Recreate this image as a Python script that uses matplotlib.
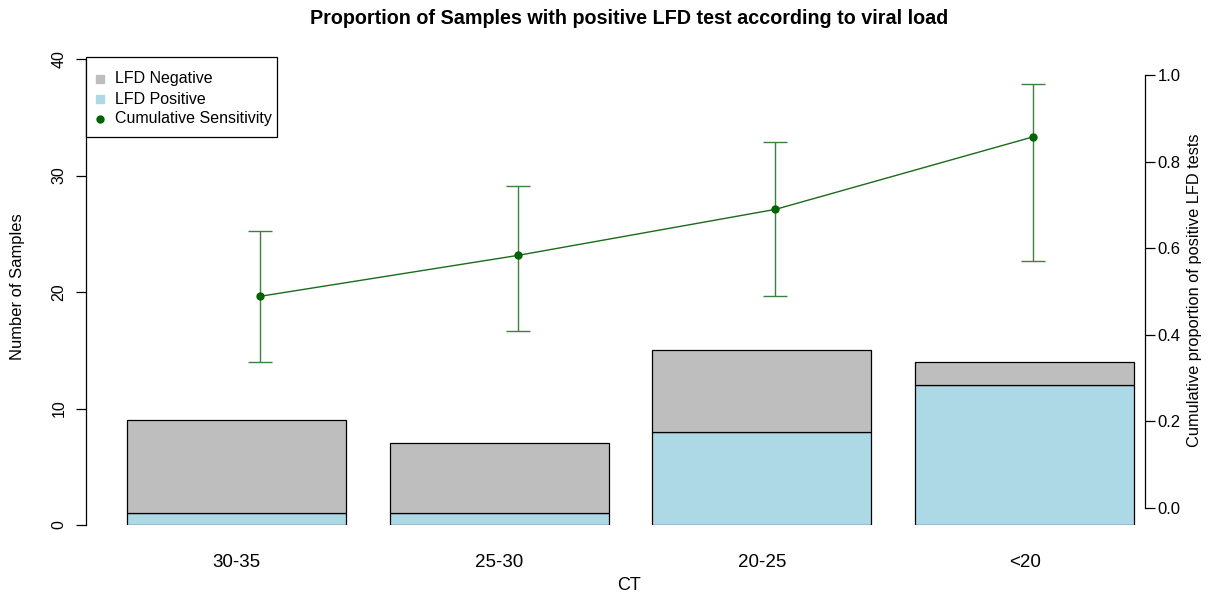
import matplotlib
matplotlib.use("Agg")
import matplotlib.pyplot as plt
from matplotlib.lines import Line2D
from matplotlib.patches import Rectangle
import numpy as np

plt.rcParams['font.family'] = ['Liberation Sans', 'DejaVu Sans']

categories = ["30-35", "25-30", "20-25", "<20"]
lfd_positive = [1, 1, 8, 12]
lfd_negative = [8, 6, 7, 2]
cum_sensitivity = [22/45, 21/36, 20/29, 12/14]
ci_lower = [0.337, 0.409, 0.490, 0.570]
ci_upper = [0.640, 0.744, 0.845, 0.979]
left_ticks = [0, 10, 20, 30, 40]
right_ticks = [0.0, 0.2, 0.4, 0.6, 0.8, 1.0]
legend_labels = ["LFD Negative", "LFD Positive", "Cumulative Sensitivity"]
legend_colors = ['#BEBEBE', '#ADD8E6', '#006400']
legend_markers = ['s', 's', 'o']

W, H = 1208, 594
fig = plt.figure(figsize=(W/100, H/100), dpi=100)

def px_rect(x0, y0, x1, y1):
    return [x0/W, (H-y1)/H, (x1-x0)/W, (y1-y0)/H]

def fx(px):
    return px/W

def fy(py):
    return 1 - py/H

pos = px_rect(86, 59, 1145, 525)
ax = fig.add_axes(pos)
n = len(categories)
centers = 0.7 + 1.2*np.arange(n)
ax.bar(centers, lfd_positive, width=1.0, color='#ADD8E6', edgecolor='black', linewidth=0.9)
ax.bar(centers, lfd_negative, width=1.0, bottom=lfd_positive, color='#BEBEBE', edgecolor='black', linewidth=0.9)
ax.set_xlim(0.0127, 4.850)
ax.set_ylim(0, 40)
for s in ['top', 'right', 'bottom']:
    ax.spines[s].set_visible(False)
ax.spines['left'].set_bounds(0, 40)
ax.spines['left'].set_linewidth(0.9)
ax.set_yticks(left_ticks)
ax.set_yticklabels([str(t) for t in left_ticks], rotation=90, va='center', fontsize=11.5)
ax.tick_params(axis='y', length=7, width=0.9, pad=7)
ax.set_xticks(centers)
ax.set_xticklabels(categories, fontsize=13.5)
ax.tick_params(axis='x', length=0, pad=21)
ax.patch.set_visible(False)

ax2 = fig.add_axes(pos, frameon=True)
ax2.patch.set_visible(False)
xs = np.arange(1, n+1)
prop = np.array(cum_sensitivity)
lo = np.array(ci_lower)
hi = np.array(ci_upper)
ax2.errorbar(xs, prop, yerr=[prop-lo, hi-prop], fmt='none', ecolor='#3f7f3f',
             elinewidth=1.0, capsize=8.6, capthick=1.0)
ax2.plot(xs, prop, color='#1a6b1a', linewidth=1.0, marker='o', markersize=5,
         markerfacecolor='#006400', markeredgecolor='#006400')
ax2.set_xlim(0.3247, 4.4347)
ax2.set_ylim(-0.03926, 1.0370)
for s in ['top', 'left', 'bottom']:
    ax2.spines[s].set_visible(False)
ax2.spines['right'].set_bounds(0, 1)
ax2.spines['right'].set_linewidth(0.9)
ax2.set_xticks([])
ax2.yaxis.tick_right()
ax2.set_yticks(right_ticks)
ax2.set_yticklabels([f"{t:.1f}" for t in right_ticks], fontsize=12)
ax2.tick_params(axis='y', length=7, width=0.9, pad=2)

# legend box (R-style, drawn manually)
fig.add_artist(Rectangle((fx(86), fy(137)), fx(277) - fx(86), fy(57) - fy(137),
                         transform=fig.transFigure, facecolor='white',
                         edgecolor='black', linewidth=0.9, zorder=5))
for i, (lab, col, mk) in enumerate(zip(legend_labels, legend_colors, legend_markers)):
    yy = 79 + 20*i
    fig.add_artist(Line2D([fx(100)], [fy(yy)], transform=fig.transFigure, linestyle='none',
                          marker=mk, markersize=6 if mk == 's' else 5, color=col, zorder=6))
    fig.text(fx(115), fy(yy), lab, ha='left', va='center', fontsize=11.5, zorder=6)

fig.text(629/W, 1-19/H, "Proportion of Samples with positive LFD test according to viral load",
         ha='center', va='center', fontsize=14.2, fontweight='bold')
fig.text(629/W, 1-585/H, "CT", ha='center', va='center', fontsize=13)
fig.text(18/W, 1-287/H, "Number of Samples", rotation=90, ha='center', va='center', fontsize=11.9)
fig.text(1195/W, 1-290/H, "Cumulative proportion of positive LFD tests", rotation=90,
         ha='center', va='center', fontsize=11.8)

fig.savefig("out.png", dpi=100)
